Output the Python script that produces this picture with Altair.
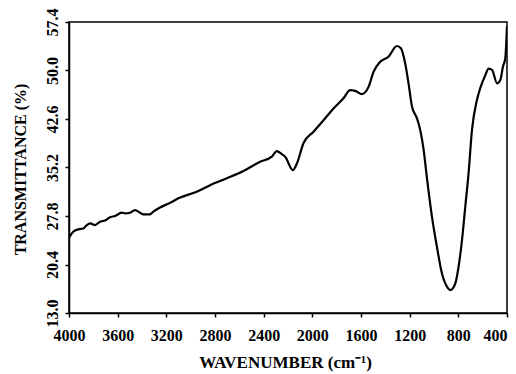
import altair as alt
import pandas as pd

wavenumber = [4000, 3965, 3924, 3882, 3854, 3827, 3786, 3745, 3704, 3663, 3622, 3567,
              3539, 3498, 3457, 3416, 3389, 3334, 3307, 3252, 3169, 3101, 2950, 2840,
              2703, 2566, 2429, 2333, 2292, 2251, 2223, 2160, 2127, 2073, 1990, 1908,
              1826, 1744, 1689, 1648, 1593, 1538, 1497, 1442, 1374, 1305, 1272, 1237,
              1209, 1181, 1140, 1113, 1086, 1058, 1017, 976, 935, 893, 866, 825, 798,
              770, 743, 716, 688, 647, 620, 578, 551, 523, 482, 455, 433, 414, 400]
transmittance = [24.5, 25.4, 25.76, 25.9, 26.4, 26.68, 26.42, 26.93, 27.1, 27.6, 27.8, 28.3,
                 28.2, 28.3, 28.7, 28.3, 28.05, 28.05, 28.45, 29.1, 29.8, 30.5, 31.5, 32.5,
                 33.55, 34.66, 36.08, 36.85, 37.7, 37.25, 36.85, 34.8, 35.8, 38.9, 40.66, 42.4,
                 44.2, 45.76, 47.0, 46.9, 46.4, 47.5, 49.8, 51.34, 52.1, 53.74, 53.4, 51.1,
                 48.0, 44.5, 42.7, 40.9, 38.0, 33.6, 27.7, 23.1, 19.05, 17.0, 16.5, 17.5, 20.06,
                 24.1, 29.2, 34.3, 40.9, 45.5, 47.3, 49.3, 50.3, 50.1, 48.05, 48.55, 50.6, 51.9, 56.8]

x_ticks = [4000, 3600, 3200, 2800, 2400, 2000, 1600, 1200, 800, 400]
y_ticks = [13.0, 20.4, 27.8, 35.2, 42.6, 50.0, 57.4]

df = pd.DataFrame({"wn": wavenumber, "t": transmittance})

FONT = "Liberation Serif"

chart = alt.Chart(df).mark_line(
    color="black", strokeWidth=2.2, interpolate="monotone", clip=True
).encode(
    x=alt.X("wn:Q",
            scale=alt.Scale(domain=[400, 4000], reverse=True, nice=False, zero=False),
            axis=alt.Axis(values=x_ticks, format="d", title="WAVENUMBER (cm\u207b\u00b9)", grid=False,
                          labelAlign={"expr": "datum.value == 400 ? 'right' : 'center'"},
                          labelFont=FONT, labelFontWeight="bold", labelFontSize=16,
                          labelColor="black", labelPadding=10, tickSize=4,
                          titleFont=FONT, titleFontWeight="bold", titleFontSize=17,
                          titleColor="black", titleX=216, titleY=54,
                          titleBaseline="alphabetic", titleAlign="center",
                          domainColor="black", domainWidth=1.5, tickColor="black",
                          tickWidth=1.5, labelFlush=False, labelOverlap=False)),
    y=alt.Y("t:Q",
            scale=alt.Scale(domain=[13.0, 57.4], nice=False, zero=False),
            axis=alt.Axis(values=y_ticks, format=".1f", title="TRANSMITTANCE (%)", grid=False,
                          labelFont=FONT, labelFontWeight="bold", labelFontSize=16,
                          labelColor="black", labelAngle=270, labelAlign="center",
                          labelBaseline="alphabetic", labelPadding=8, tickSize=4,
                          titleFont=FONT, titleFontWeight="bold", titleFontSize=16,
                          titleColor="black", titleAngle=270, titleX=-49, titleY=147,
                          titleBaseline="middle", titleAlign="center",
                          domainColor="black", domainWidth=1.5, tickColor="black",
                          tickWidth=1.5, labelFlush=False, labelOverlap=False)),
).properties(
    width=438, height=291,
    autosize=alt.AutoSizeParams(type="none"),
    padding={"left": 69, "top": 22, "right": 9, "bottom": 61},
    background="white",
).configure_view(stroke="black", strokeWidth=1.5)

chart.save("out.html", embed_options={"renderer": "svg", "actions": False})
